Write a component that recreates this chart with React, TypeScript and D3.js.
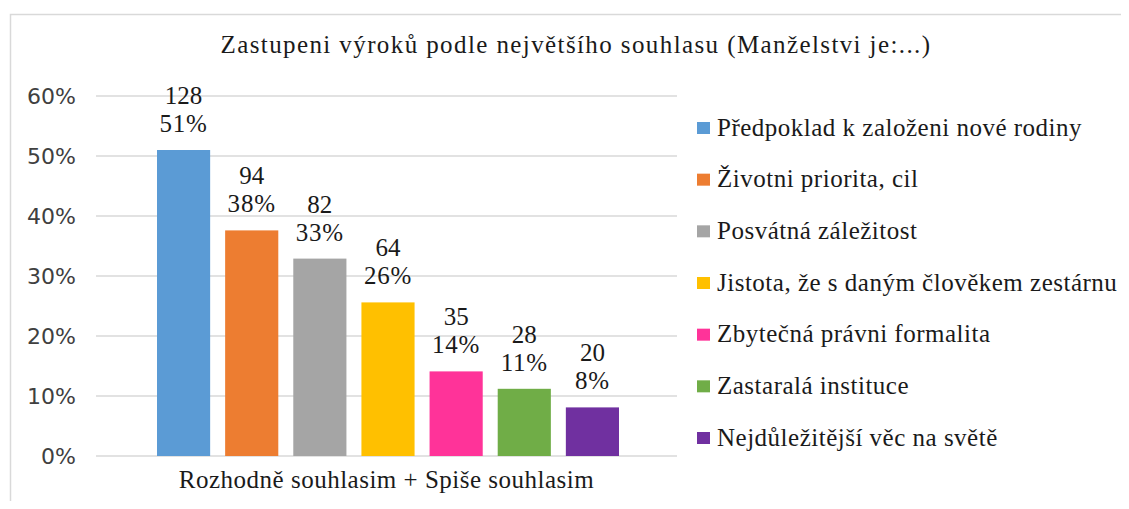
import React, { useEffect, useRef } from 'react';
import * as d3 from 'd3';

const title = 'Zastupeni výroků podle největšího souhlasu (Manželstvi je:...)';
const category = 'Rozhodně souhlasim + Spiše souhlasim';
const series = [
    'Předpoklad k založeni nové rodiny',
    'Životni priorita, cil',
    'Posvátná záležitost',
    'Jistota, že s daným člověkem zestárnu',
    'Zbytečná právni formalita',
    'Zastaralá instituce',
    'Nejdůležitější věc na světě',
];
const counts = [128, 94, 82, 64, 35, 28, 20];
const shares = [51.0, 37.6, 32.9, 25.6, 14.1, 11.2, 8.1];
const shareLabels = ['51%', '38%', '33%', '26%', '14%', '11%', '8%'];
const yTicks = [0, 10, 20, 30, 40, 50, 60];
const colors = ['#5B9BD5', '#ED7D31', '#A5A5A5', '#FFC000', '#FF3399', '#70AD47', '#7030A0'];

export default function App() {
    const ref = useRef<SVGSVGElement>(null);

    useEffect(() => {
        const orgWidth = 1129, orgHeight = 509;
        const serif = 'Liberation Serif';

        const margin = { top: 96, left: 96, right: 452, bottom: 53 };
        const width = orgWidth - margin.left - margin.right;
        const height = orgHeight - margin.top - margin.bottom;

        const svg = d3.select(ref.current);
        svg.selectAll('*').remove();

        // frame (only left and top edges are visible)
        svg.append('path')
            .attr('d', `M10.5,${orgHeight} V14.5 H${orgWidth}`)
            .attr('fill', 'none')
            .attr('stroke', '#d9d9d9')
            .attr('stroke-width', 1.5);

        svg.append('text')
            .attr('x', 576)
            .attr('y', 53)
            .attr('text-anchor', 'middle')
            .attr('font-family', serif)
            .attr('font-size', 25)
            .attr('letter-spacing', 1.4)
            .attr('fill', '#1a1a1a')
            .text(title);

        const g = svg.append('g')
            .attr('transform', 'translate(' + margin.left + ',' + margin.top + ')');

        const yScale = d3.scaleLinear().domain([0, 60]).range([height, 0]);
        const xCat = d3.scaleBand().domain([category]).range([0, width]);
        const xScale = d3.scaleBand()
            .domain(series)
            .range([61, 523])
            .paddingInner(0.22);

        // grid
        g.selectAll('.grid')
            .data(yTicks)
            .enter().append('line')
            .attr('x1', 0)
            .attr('x2', width)
            .attr('y1', d => yScale(d))
            .attr('y2', d => yScale(d))
            .attr('stroke', '#d9d9d9')
            .attr('stroke-width', 1.5);

        // y labels
        g.selectAll('.ytick')
            .data(yTicks)
            .enter().append('text')
            .attr('x', -20)
            .attr('y', d => yScale(d))
            .attr('dy', '0.36em')
            .attr('text-anchor', 'end')
            .attr('font-family', 'DejaVu Sans')
            .attr('font-size', 22)
            .attr('fill', '#404040')
            .text(d => d + '%');

        const bars = g.selectAll('.bar')
            .data(series)
            .enter().append('g');

        bars.append('rect')
            .attr('x', d => xScale(d)!)
            .attr('width', xScale.bandwidth())
            .attr('y', (d, i) => yScale(shares[i]))
            .attr('height', (d, i) => height - yScale(shares[i]))
            .attr('fill', (d, i) => colors[i]);

        bars.append('text')
            .attr('x', d => xScale(d)! + xScale.bandwidth() / 2)
            .attr('y', (d, i) => yScale(shares[i]) - 46)
            .attr('text-anchor', 'middle')
            .attr('font-family', serif)
            .attr('font-size', 25)
            .attr('fill', '#1a1a1a')
            .text((d, i) => counts[i]);

        bars.append('text')
            .attr('x', d => xScale(d)! + xScale.bandwidth() / 2)
            .attr('y', (d, i) => yScale(shares[i]) - 18)
            .attr('text-anchor', 'middle')
            .attr('font-family', serif)
            .attr('font-size', 25)
            .attr('letter-spacing', 0.8)
            .attr('fill', '#1a1a1a')
            .text((d, i) => shareLabels[i]);

        // category label
        g.append('text')
            .attr('x', xCat(category)! + xCat.bandwidth() / 2)
            .attr('y', height + 32)
            .attr('text-anchor', 'middle')
            .attr('font-family', serif)
            .attr('font-size', 25)
            .attr('letter-spacing', 0.5)
            .attr('fill', '#1a1a1a')
            .text(category);

        // legend
        const legendY = d3.scalePoint().domain(series).range([128, 438]);
        const legend = svg.selectAll('.legend')
            .data(series)
            .enter().append('g')
            .attr('transform', d => 'translate(697,' + legendY(d) + ')');

        legend.append('rect')
            .attr('y', -6)
            .attr('width', 13)
            .attr('height', 12)
            .attr('fill', (d, i) => colors[i]);

        legend.append('text')
            .attr('x', 20)
            .attr('dy', '0.3em')
            .attr('font-family', serif)
            .attr('font-size', 25)
            .attr('letter-spacing', 0.5)
            .attr('fill', '#1a1a1a')
            .text(d => d);
    }, []);

    return (
        <svg ref={ref} width={1129} height={509}
            style={{ display: 'block', margin: -8, background: '#fff' }} />
    );
}
